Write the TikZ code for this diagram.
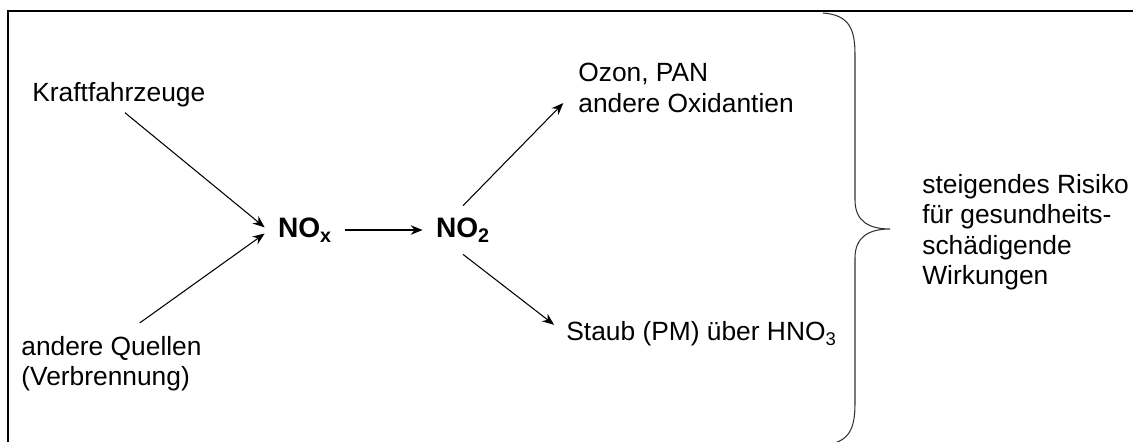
\documentclass[tikz,border=0pt]{standalone}
\usepackage{fontspec}
\setmainfont{Liberation Sans}
\usetikzlibrary{arrows.meta,positioning}

\begin{document}
\begin{tikzpicture}[
x=0.02cm,y=-0.02cm,
txt/.style={inner sep=0,align=left,font=\fontsize{15}{17.3}\selectfont},
chem/.style={inner xsep=0.26cm,inner ysep=0,minimum height=0.96cm,font=\fontsize{16}{18}\selectfont\bfseries},
arr/.style={-{Stealth[length=2.4mm,width=1.9mm]},line width=0.6pt}
]
\useasboundingbox (0,0) rectangle (1133,441);
\clip (0,0) rectangle (1133,441);
\draw[line width=1.2pt] (8,11) rectangle (1150,460);

\node[txt,anchor=west] (kfz) at (32,95) {Kraftfahrzeuge};
\node[txt,anchor=north west] (quellen) at (21,336) {andere Quellen\\(Verbrennung)};
\node[chem] (nox) at (305,230) {NO\textsubscript{x}};
\node[chem] (no2) at (463,230) {NO\textsubscript{2}};
\node[txt,anchor=west] (ozon) at (578,88) {Ozon, PAN\\andere Oxidantien};
\node[txt,anchor=west] (staub) at (566,334) {Staub (PM) über HNO\textsubscript{3}};
\node[txt,anchor=west] (risiko) at (922,232) {steigendes Risiko\\für gesundheits-\\schädigende\\Wirkungen};

\draw[arr,shorten <=0.16cm] (kfz.south) -- ([yshift=1.5pt]nox.west);
\draw[arr,shorten <=0.45cm] ([xshift=0.2cm]quellen.north) -- ([yshift=-2pt]nox.west);
\draw[arr] (nox) -- (no2);
\draw[arr,shorten >=0.42cm] (no2.north) -- (ozon.west);
\draw[arr,shorten >=0.3cm] (no2.south) -- (staub.west);

% Klammer
\draw[black!80,line width=0.6pt] (823,13) .. controls (850,15) and (855,30) .. (855,55) -- (855,200)
  .. controls (855,222) and (870,229) .. (890,229)
  .. controls (870,229) and (855,236) .. (855,258) -- (855,403)
  .. controls (855,428) and (850,443) .. (823,445);
\end{tikzpicture}
\end{document}
